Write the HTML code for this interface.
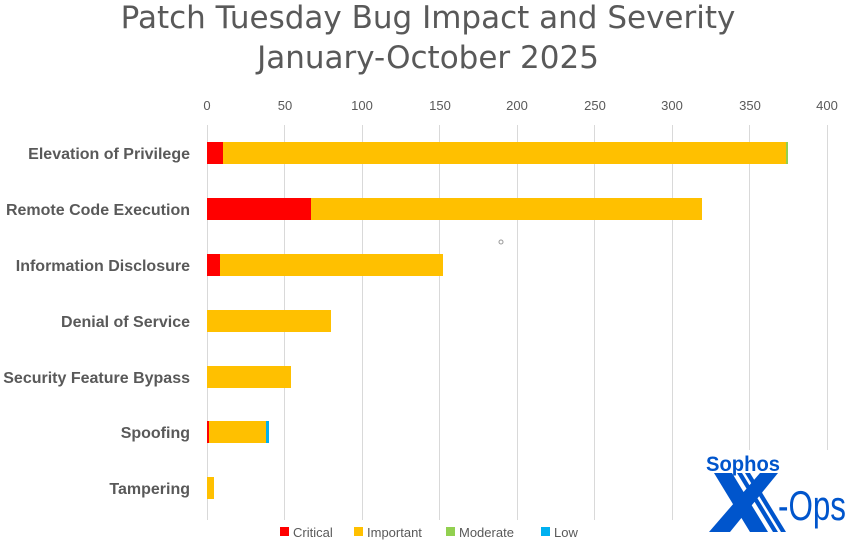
<!DOCTYPE html>
<html><head><style>
body{margin:0;background:#fff;width:856px;height:549px;overflow:hidden}
svg{display:block}
</style></head><body>
<svg width="856" height="549" xmlns="http://www.w3.org/2000/svg" font-family="Liberation Sans, sans-serif">
<text x="428" y="28" text-anchor="middle" font-size="31" fill="#595959" font-family="DejaVu Sans, sans-serif">Patch Tuesday Bug Impact and Severity</text>
<text x="428" y="68" text-anchor="middle" font-size="31" fill="#595959" font-family="DejaVu Sans, sans-serif">January-October 2025</text>
<g stroke="#d9d9d9" stroke-width="1">
<line x1="207.5" y1="125" x2="207.5" y2="520"/>
<line x1="284.5" y1="125" x2="284.5" y2="520"/>
<line x1="362.5" y1="125" x2="362.5" y2="520"/>
<line x1="439.5" y1="125" x2="439.5" y2="520"/>
<line x1="517.5" y1="125" x2="517.5" y2="520"/>
<line x1="594.5" y1="125" x2="594.5" y2="520"/>
<line x1="672.5" y1="125" x2="672.5" y2="520"/>
<line x1="749.5" y1="125" x2="749.5" y2="450"/>
<line x1="827.5" y1="125" x2="827.5" y2="450"/>
</g>
<g font-size="13" fill="#595959" text-anchor="middle">
<text x="207" y="110">0</text><text x="285" y="110">50</text><text x="362" y="110">100</text><text x="440" y="110">150</text><text x="517" y="110">200</text><text x="595" y="110">250</text><text x="672" y="110">300</text><text x="750" y="110">350</text><text x="827" y="110">400</text>
</g>
<g font-size="16" font-weight="bold" fill="#595959" text-anchor="end">
<text x="190" y="159">Elevation of Privilege</text>
<text x="190" y="215">Remote Code Execution</text>
<text x="190" y="271">Information Disclosure</text>
<text x="190" y="327">Denial of Service</text>
<text x="190" y="383">Security Feature Bypass</text>
<text x="190" y="438">Spoofing</text>
<text x="190" y="494">Tampering</text>
</g>
<rect x="207" y="142" width="16" height="22" fill="#ff0000"/><rect x="223" y="142" width="563" height="22" fill="#ffc000"/><rect x="786" y="142" width="2" height="22" fill="#92d050"/>
<rect x="207" y="198" width="104" height="22" fill="#ff0000"/><rect x="311" y="198" width="391" height="22" fill="#ffc000"/>
<rect x="207" y="254" width="13" height="22" fill="#ff0000"/><rect x="220" y="254" width="223" height="22" fill="#ffc000"/>
<rect x="207" y="310" width="124" height="22" fill="#ffc000"/>
<rect x="207" y="366" width="84" height="22" fill="#ffc000"/>
<rect x="207" y="421" width="2" height="22" fill="#ff0000"/><rect x="209" y="421" width="57" height="22" fill="#ffc000"/><rect x="266" y="421" width="3" height="22" fill="#00b0f0"/>
<rect x="207" y="477" width="7" height="22" fill="#ffc000"/>
<circle cx="501" cy="242" r="2" fill="none" stroke="#999"/>
<g font-size="13" fill="#595959">
<rect x="280" y="527" width="9" height="9" fill="#ff0000"/><text x="293" y="537">Critical</text>
<rect x="354" y="527" width="9" height="9" fill="#ffc000"/><text x="367" y="537">Important</text>
<rect x="446" y="527" width="9" height="9" fill="#92d050"/><text x="459" y="537">Moderate</text>
<rect x="541" y="527" width="9" height="9" fill="#00b0f0"/><text x="554" y="537">Low</text>
</g>
<rect x="700" y="450" width="156" height="99" fill="#fff"/>
<text x="706" y="471" font-size="21" font-weight="bold" fill="#0055cc" textLength="74" lengthAdjust="spacingAndGlyphs">Sophos</text>
<polygon points="714,473 732,473 768,532 750,532" fill="#0055cc"/>
<polygon points="737,473 742,473 778,532 773,532" fill="#0055cc"/>
<polygon points="745,473 750,473 786,532 781,532" fill="#0055cc"/>
<polygon points="760,473 778,473 730,532 709,532" fill="#0055cc"/>
<text x="778" y="520" font-size="42" fill="#0055cc" textLength="68" lengthAdjust="spacingAndGlyphs">-Ops</text>
</svg>
</body></html>
